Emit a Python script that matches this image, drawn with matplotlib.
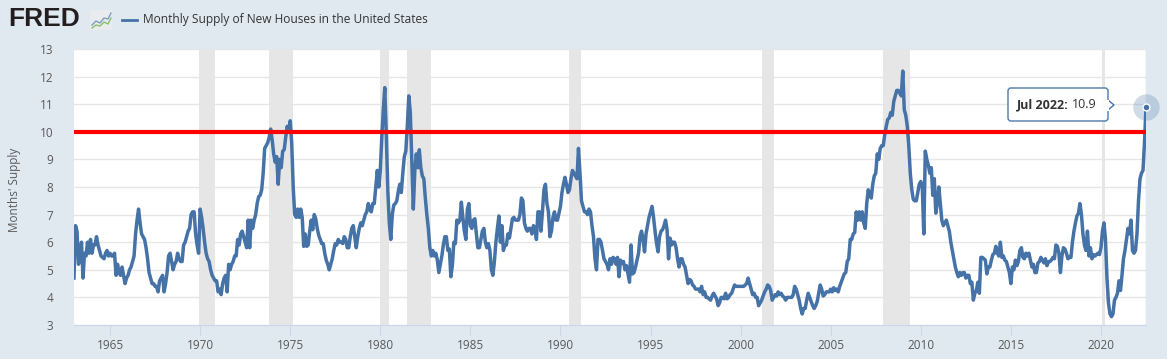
import numpy as np
import matplotlib.pyplot as plt
from matplotlib.patches import FancyBboxPatch, Polygon, Rectangle
from matplotlib.lines import Line2D

plt.rcParams['font.family'] = ['Open Sans', 'DejaVu Sans']

# monthly supply of new houses, Jan 1963 .. Jul 2022
supply_1960s = [
    4.7, 6.6, 6.4, 5.2, 5.5, 6.0, 4.7, 5.6, 5.5, 6.0, 5.6, 6.1,   # 1963
    5.6, 5.9, 5.9, 6.2, 5.9, 5.7, 5.5, 5.45, 5.4, 5.6, 5.7, 5.5,  # 1964
    5.6, 5.5, 5.5, 5.6, 4.8, 5.2, 4.9, 4.8, 5.1, 4.8, 4.5, 4.7,   # 1965
    4.8, 5.0, 5.1, 5.3, 5.5, 6.3, 6.8, 7.2, 6.7, 6.3, 6.2, 6.1,   # 1966
    5.8, 5.4, 4.9, 4.7, 4.5, 4.5, 4.4, 4.4, 4.2, 4.6, 4.7, 4.8,   # 1967
    4.2, 4.5, 4.9, 5.5, 5.6, 5.3, 5.0, 5.2, 5.3, 5.6, 5.4, 5.3,   # 1968
    5.3, 5.9, 6.0, 6.2, 6.4, 6.5, 7.0, 7.1, 7.1, 6.3, 5.9, 5.6,   # 1969
]
supply_1970s = [
    7.2, 6.9, 6.5, 6.0, 5.6, 5.4, 5.3, 5.0, 4.8, 4.7, 4.6, 4.6,   # 1970
    4.2, 4.3, 4.1, 4.5, 4.7, 4.8, 4.2, 5.2, 5.0, 5.2, 5.3, 5.5,   # 1971
    5.5, 6.1, 5.9, 6.3, 6.4, 6.2, 6.0, 5.8, 6.8, 5.8, 6.8, 6.5,   # 1972
    6.8, 7.0, 7.4, 7.65, 7.7, 7.9, 8.5, 9.4, 9.5, 9.6, 9.8, 10.1, # 1973
    9.7, 9.2, 8.9, 9.1, 8.1, 9.0, 8.7, 9.3, 9.35, 9.8, 10.2, 10.0,  # 1974
    10.4, 9.6, 8.0, 7.0, 6.9, 7.2, 6.9, 7.2, 6.9, 5.85, 6.3, 5.85,  # 1975
    5.9, 6.4, 6.8, 6.45, 7.0, 6.85, 6.5, 6.25, 6.1, 5.95, 5.95, 5.6,  # 1976
    5.35, 5.2, 5.0, 5.2, 5.4, 5.7, 5.95, 5.9, 6.1, 6.0, 6.0, 5.95,  # 1977
    6.2, 6.1, 5.8, 5.8, 6.2, 6.5, 6.6, 6.2, 5.8, 6.2, 6.5, 6.7,   # 1978
    6.6, 6.8, 7.0, 7.1, 7.4, 7.2, 7.1, 7.4, 7.4, 8.0, 8.6, 8.0,   # 1979
]
supply_1980s = [
    8.6, 9.8, 10.8, 11.6, 9.9, 7.9, 6.7, 6.1, 7.0, 7.35, 7.4, 7.5,  # 1980
    7.85, 8.1, 7.8, 8.5, 9.1, 9.3, 10.2, 11.3, 10.7, 9.0, 7.2, 8.6,  # 1981
    9.2, 8.7, 9.35, 8.7, 8.4, 8.3, 7.6, 7.0, 6.5, 5.8, 5.5, 5.7,   # 1982
    5.5, 5.6, 5.35, 4.9, 5.2, 5.5, 5.9, 6.2, 6.2, 5.7, 5.75, 4.75,  # 1983
    5.15, 6.0, 5.95, 6.8, 6.7, 6.8, 7.45, 6.9, 6.4, 6.1, 7.2, 7.4,  # 1984
    6.6, 6.5, 6.8, 6.85, 6.3, 5.8, 5.8, 6.1, 6.4, 6.5, 6.0, 5.8,   # 1985
    5.95, 5.7, 5.0, 4.8, 5.3, 6.0, 6.5, 6.95, 6.0, 6.6, 5.7, 5.9,  # 1986
    5.9, 6.3, 6.15, 6.5, 6.85, 6.9, 6.8, 6.8, 6.8, 7.0, 7.6, 7.5,  # 1987
    6.7, 6.5, 6.4, 6.5, 6.5, 6.3, 6.6, 6.5, 6.1, 7.1, 7.1, 6.4,   # 1988
    7.1, 7.9, 8.1, 7.4, 7.1, 6.2, 6.4, 6.9, 7.1, 6.8, 6.8, 7.05,  # 1989
]
supply_1990s = [
    7.3, 7.8, 8.1, 8.35, 8.1, 7.8, 7.9, 8.3, 8.6, 8.5, 8.4, 8.3,  # 1990
    9.4, 8.5, 7.5, 7.3, 7.1, 7.1, 7.0, 7.2, 7.1, 6.6, 6.2, 5.4,   # 1991
    5.0, 6.1, 6.1, 6.0, 5.7, 5.4, 5.3, 5.2, 5.0, 5.4, 5.2, 5.45,  # 1992
    5.4, 5.2, 5.45, 4.75, 5.35, 5.25, 5.3, 5.0, 5.15, 4.85, 4.55, 5.9,  # 1993
    4.85, 4.9, 5.1, 5.35, 5.6, 6.2, 6.4, 6.1, 5.65, 6.3, 6.6, 6.9,  # 1994
    7.1, 7.3, 6.9, 6.4, 5.95, 5.65, 6.2, 6.4, 6.45, 6.6, 6.8, 6.45,  # 1995
    5.4, 6.15, 5.9, 6.0, 6.0, 5.8, 5.4, 5.1, 5.4, 5.4, 5.2, 5.1,  # 1996
    4.8, 4.5, 4.65, 4.6, 4.45, 4.4, 4.3, 4.3, 4.3, 4.2, 4.4, 4.1,  # 1997
    4.2, 4.0, 4.0, 3.95, 3.9, 4.05, 4.15, 4.05, 3.95, 3.7, 3.8, 4.0,  # 1998
    4.0, 3.95, 4.15, 3.95, 4.0, 4.1, 4.15, 4.3, 4.45, 4.4, 4.4, 4.4,  # 1999
]
supply_2000s = [
    4.4, 4.4, 4.4, 4.45, 4.5, 4.7, 4.5, 4.3, 4.1, 4.15, 4.0, 4.0,  # 2000
    3.7, 3.8, 3.9, 4.05, 4.2, 4.3, 4.45, 4.4, 4.25, 3.9, 4.0, 4.1,  # 2001
    4.05, 4.2, 4.1, 4.15, 4.05, 4.0, 3.9, 4.0, 4.0, 4.0, 4.0, 4.1,  # 2002
    4.4, 4.3, 4.1, 3.9, 3.6, 3.4, 3.6, 3.6, 3.9, 4.15, 4.0, 3.85,  # 2003
    3.7, 3.6, 3.7, 3.85, 4.15, 4.45, 4.3, 4.05, 4.1, 4.2, 4.2, 4.2,  # 2004
    4.3, 4.2, 4.35, 4.25, 4.3, 4.2, 4.4, 4.55, 4.7, 4.85, 4.9, 5.3,  # 2005
    5.4, 6.1, 6.1, 6.3, 6.35, 7.1, 6.8, 7.1, 6.8, 7.1, 6.7, 6.5,   # 2006
    7.4, 7.9, 7.7, 7.6, 8.1, 8.4, 8.5, 9.2, 9.0, 9.4, 9.5, 9.5,    # 2007
    9.9, 10.2, 10.45, 10.5, 10.7, 10.6, 11.1, 11.3, 11.5, 11.5, 11.4, 11.3,  # 2008
    12.2, 10.8, 10.6, 10.2, 9.5, 8.5, 7.9, 7.55, 7.5, 7.5, 7.8, 8.1,  # 2009
]
supply_2010s = [
    8.2, 8.0, 6.3, 9.3, 9.0, 8.8, 8.5, 8.7, 7.7, 8.3, 7.05, 7.4,   # 2010
    8.0, 7.4, 6.8, 6.6, 6.7, 6.8, 6.6, 6.4, 6.0, 5.7, 5.4, 5.1,    # 2011
    4.9, 4.75, 4.9, 4.8, 4.9, 4.9, 4.7, 4.8, 4.8, 4.5, 4.55, 3.9,  # 2012
    4.15, 4.25, 4.55, 4.15, 5.45, 5.45, 5.4, 5.35, 4.85, 5.1, 5.1, 5.35,  # 2013
    5.55, 5.6, 5.85, 5.6, 5.5, 6.0, 5.45, 5.5, 5.35, 5.3, 5.1, 4.9,  # 2014
    4.5, 5.1, 5.0, 5.35, 5.15, 5.3, 5.7, 5.8, 5.45, 5.4, 5.6, 5.5,  # 2015
    5.6, 5.35, 5.1, 5.2, 4.9, 4.9, 5.25, 5.3, 5.45, 5.35, 5.25, 5.4,  # 2016
    5.15, 5.3, 5.3, 5.35, 5.45, 5.4, 5.9, 5.85, 5.6, 4.9, 5.5, 5.8,  # 2017
    5.75, 5.6, 5.4, 5.45, 5.45, 6.0, 6.4, 6.7, 6.95, 7.05, 7.4, 7.0,  # 2018
    6.3, 5.9, 5.7, 6.4, 5.5, 5.8, 5.4, 5.55, 5.5, 5.55, 5.6, 5.55,  # 2019
]
supply_2020s = [
    5.8, 6.4, 6.7, 6.1, 4.7, 3.8, 3.4, 3.3, 3.4, 3.9, 4.0, 4.15,   # 2020
    4.6, 4.25, 4.8, 5.4, 5.7, 6.1, 6.5, 6.3, 6.8, 5.7, 5.6, 5.7,   # 2021
    6.3, 7.5, 8.3, 8.5, 8.6, 9.6, 10.9,                            # 2022
]

# NBER recessions (peak month, trough month)
rec_start = ["1969-12", "1973-11", "1980-01", "1981-07", "1990-07", "2001-03", "2007-12", "2020-02"]
rec_end = ["1970-11", "1975-03", "1980-07", "1982-11", "1991-03", "2001-11", "2009-06", "2020-04"]

year_ticks = list(range(1965, 2021, 5))
threshold = 10
last_label = "Jul 2022:"
last_value = "10.9"

BG = '#E1E9F0'
BLUE = '#4572A7'
W, H = 1167, 359


def ym(s):
    y, m = s.split("-")
    return int(y) + (int(m) - 1) / 12


values = np.array(supply_1960s + supply_1970s + supply_1980s + supply_1990s
                  + supply_2000s + supply_2010s + supply_2020s)
dates = 1963 + np.arange(len(values)) / 12

fig = plt.figure(figsize=(W / 100, H / 100), dpi=100, facecolor=BG)
ax = fig.add_axes([74 / W, 1 - 325 / H, (1146 - 74) / W, (325 - 49) / H])
ax.set_facecolor('white')
for s in ['top', 'left', 'right']:
    ax.spines[s].set_visible(False)
ax.spines['bottom'].set_color('#CCD6EB')

ax.set_xlim(1963, 2022.5)
ax.set_ylim(3, 13)
ax.set_yticks(range(3, 14))
ax.set_xticks(year_ticks)
ax.set_xticklabels([str(y) for y in year_ticks])
ax.grid(axis='y', color='#E6E6E6', lw=1)
ax.set_axisbelow(True)
ax.tick_params(axis='x', length=7, color='#CCD6EB', labelcolor='#595959', labelsize=8.5, pad=3)
ax.tick_params(axis='y', length=0, labelcolor='#595959', labelsize=8.5, pad=15)

for s, e in zip(rec_start, rec_end):
    ax.axvspan(ym(s), ym(e), color='#E6E6E6', lw=0, zorder=1)

ax.plot(dates, values, color=BLUE, lw=2.5, zorder=2, solid_joinstyle='round')
ax.axhline(threshold, color='#FF0000', lw=3, zorder=3)
ax.axvline(dates[-1], color='#CCD6EB', lw=1, zorder=1.5)

ax.plot(dates[-1], values[-1], 'o', ms=19, color=BLUE, alpha=0.25, mec='none', clip_on=False, zorder=4)
ax.plot(dates[-1], values[-1], 'o', ms=5, color=BLUE, mec='white', mew=1, clip_on=False, zorder=5)

ax.set_ylabel("Months' Supply", fontsize=8.5, color='#595959')
ax.yaxis.set_label_coords(-0.049, 0.49)

T = fig.dpi_scale_trans


def px(x, y):
    return x / 100, (H - y) / 100


# tooltip
box = FancyBboxPatch(px(1008, 121), 1.0, 0.33, boxstyle='round,pad=0,rounding_size=0.03',
                     fc='white', ec=BLUE, lw=1, transform=T, alpha=0.95)
fig.add_artist(box)
tri = Polygon([px(1108, 100), px(1114, 105), px(1108, 110)], closed=False,
              fc='white', ec=BLUE, lw=1, transform=T)
fig.add_artist(tri)
fig.add_artist(Line2D([1108 / 100, 1108 / 100], [(H - 100.5) / 100, (H - 109.5) / 100],
                      color='white', lw=1.5, transform=T))
fig.text(*px(1069, 105), last_label, transform=T, ha='right', va='center',
         fontsize=9, fontweight='bold', color='#333333')
fig.text(*px(1072, 105), last_value, transform=T, ha='left', va='center',
         fontsize=9, color='#333333')

# header: logo, icon, legend
fig.text(*px(8, 19), "FRED", transform=T, ha='left', va='center', fontsize=19,
         fontweight='bold', family='Liberation Sans', color='#231F20')
fig.add_artist(Rectangle(px(90, 30), 0.22, 0.2, fc='#E8ECEF', ec='none', transform=T))
icon_x = [92, 96, 100, 104, 108, 111]
fig.add_artist(Line2D([x / 100 for x in icon_x], [(H - y) / 100 for y in [25, 21, 23, 18, 19, 13]],
                      color='#7E9CC4', lw=1, transform=T))
fig.add_artist(Line2D([x / 100 for x in icon_x], [(H - y) / 100 for y in [28, 25, 26, 22, 24, 18]],
                      color='#8DBF6A', lw=1, transform=T))
fig.add_artist(Line2D([122 / 100, 137 / 100], [(H - 20) / 100] * 2, color=BLUE, lw=2, transform=T))
fig.text(*px(143, 19.5), "Monthly Supply of New Houses in the United States", transform=T,
         ha='left', va='center', fontsize=8.6, color='#333333')

fig.savefig('out.png', dpi=100, facecolor=BG)
